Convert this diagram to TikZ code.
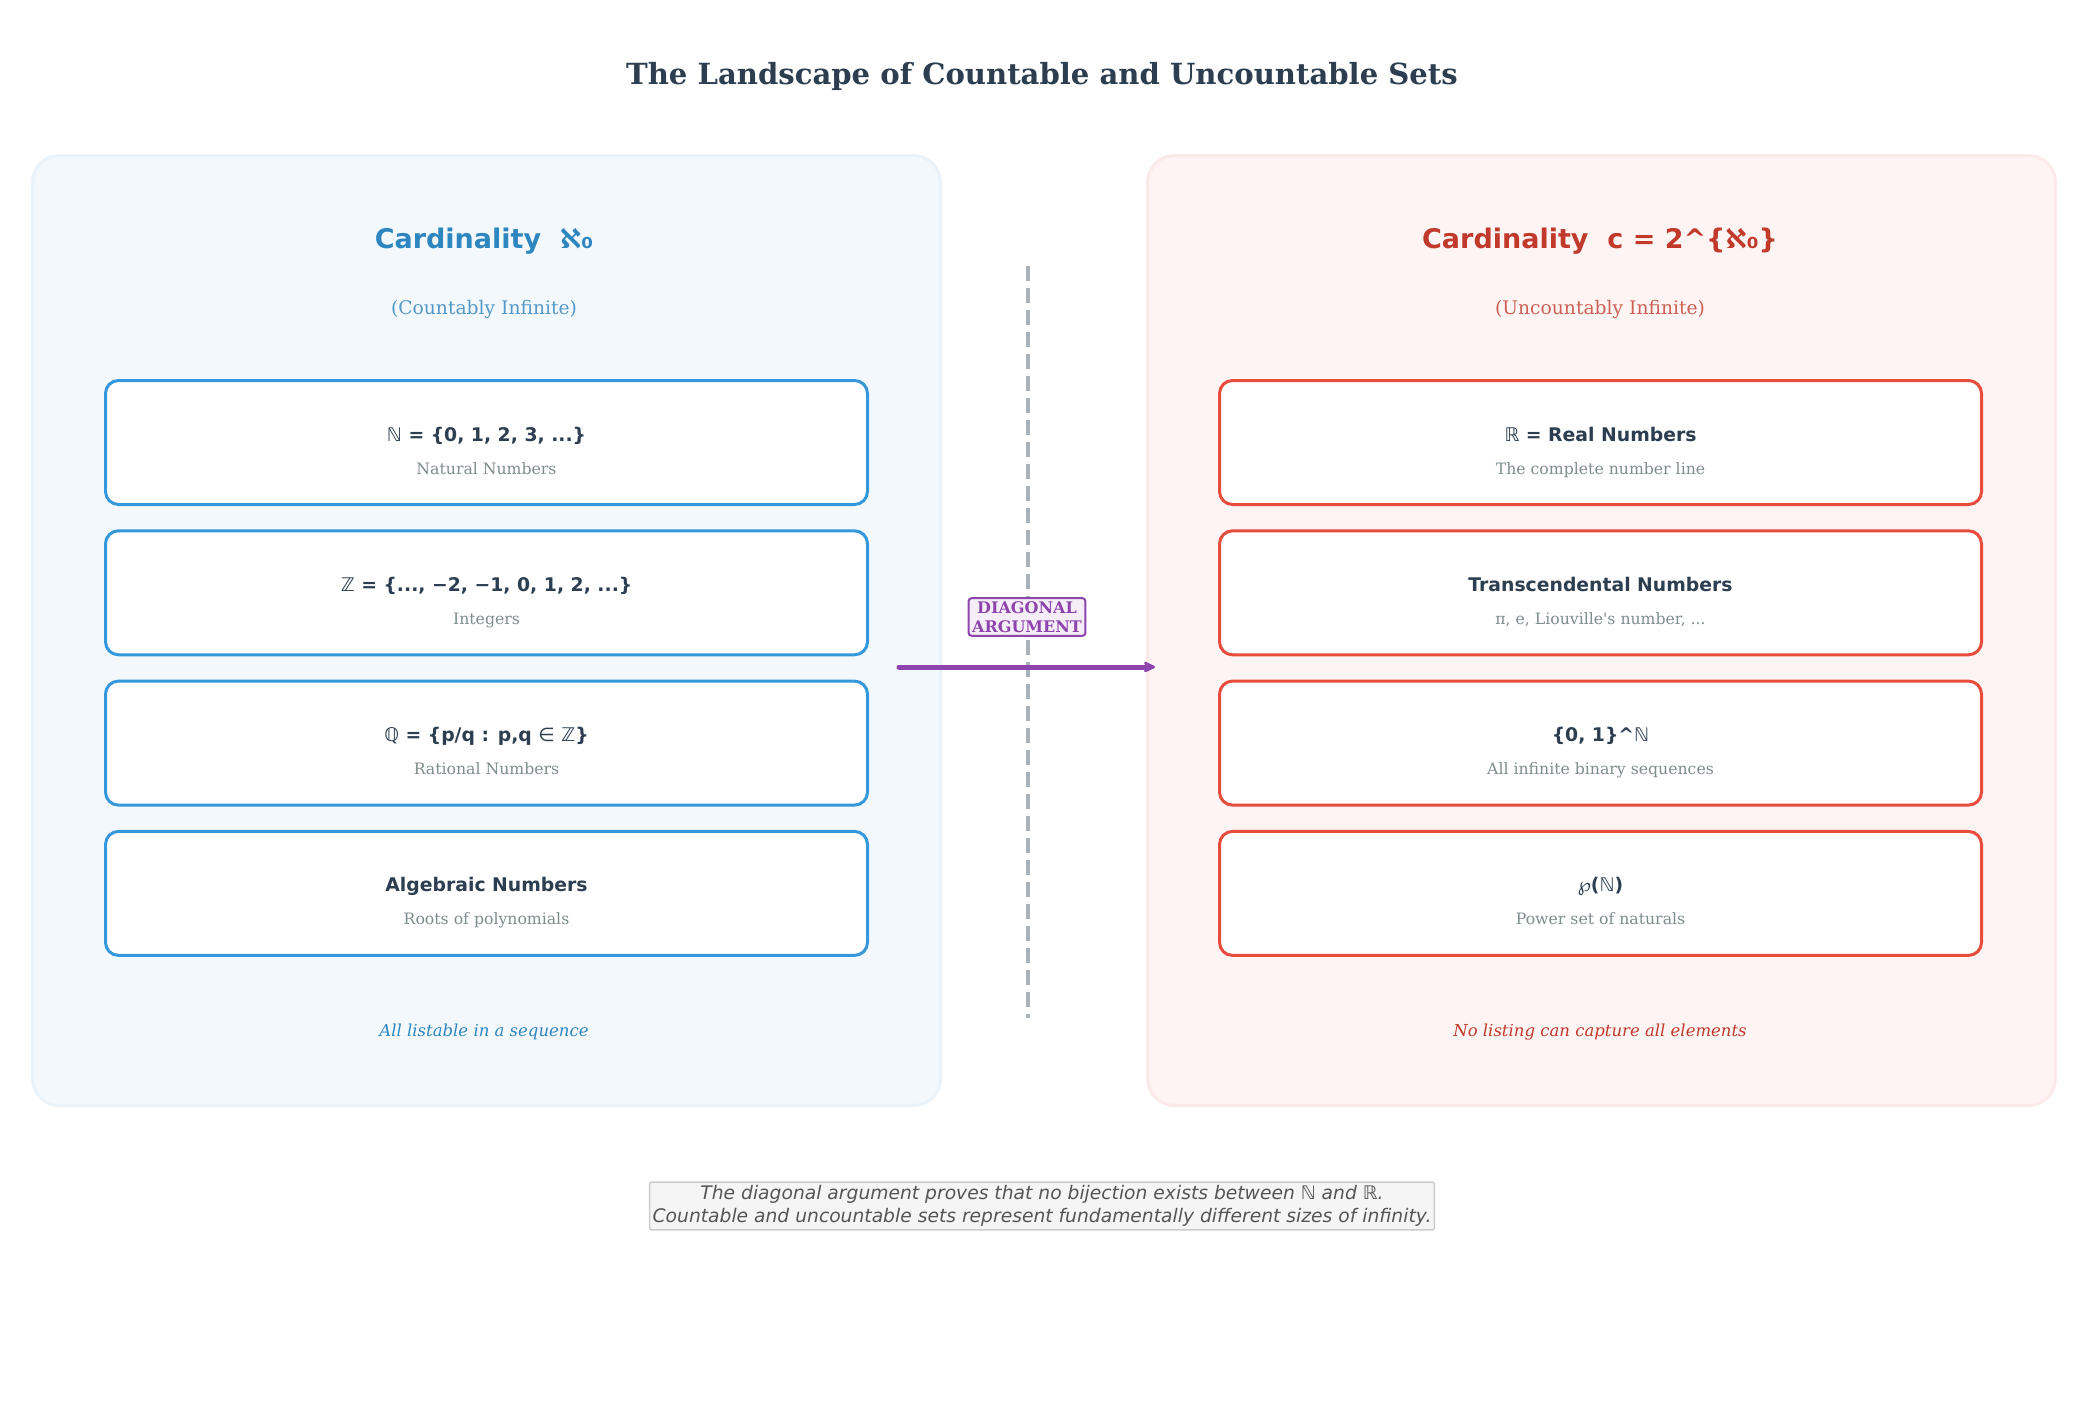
\documentclass[tikz,border=0pt]{standalone}
\usepackage{fontspec}
\setmainfont{DejaVu Serif}
\setsansfont{DejaVu Sans}
\newfontfamily\djs{DejaVu Sans}
\newfontfamily\rawserif{DejaVu Serif}
\usetikzlibrary{arrows.meta,calc}
\definecolor{ink}{HTML}{2C3E50}
\definecolor{subgray}{HTML}{7F8C8D}
\definecolor{lpfill}{HTML}{F3F8FC}
\definecolor{lpdraw}{HTML}{EAF2FA}
\definecolor{rpfill}{HTML}{FEF4F4}
\definecolor{rpdraw}{HTML}{FCEAEA}
\definecolor{bluet}{HTML}{2E86C1}
\definecolor{blues}{HTML}{5499C7}
\definecolor{redt}{HTML}{C0392B}
\definecolor{reds}{HTML}{CD6155}
\definecolor{blueb}{HTML}{3498DB}
\definecolor{redb}{HTML}{E74C3C}
\definecolor{dashc}{HTML}{AAB2B9}
\definecolor{purp}{HTML}{8E44AD}
\definecolor{purpfill}{HTML}{F5EEF8}
\definecolor{notefill}{HTML}{F5F5F5}
\definecolor{notedraw}{HTML}{CCCCCC}
\definecolor{notetext}{HTML}{555555}
\newcommand{\N}{{\djs\mdseries ℕ}}
\newcommand{\Z}{{\djs\mdseries ℤ}}
\newcommand{\Q}{{\djs\mdseries ℚ}}
\newcommand{\R}{{\djs\mdseries ℝ}}
\tikzset{
  panel/.style={rounded corners=27pt, line width=3pt, minimum width=908pt, minimum height=950pt, anchor=north west, inner sep=0pt},
  setbox/.style={rounded corners=13pt, line width=3pt, fill=white, minimum width=762pt, minimum height=124pt, anchor=north west, inner sep=0pt},
  mainlbl/.style={font=\sffamily\bfseries\fontsize{18.8}{22}\selectfont, text=ink, anchor=base},
  sublbl/.style={font=\rmfamily\fontsize{15.7}{18}\selectfont, text=subgray, anchor=base},
  ptitle/.style={font=\sffamily\bfseries\fontsize{27}{32}\selectfont, anchor=base},
  psub/.style={font=\rmfamily\fontsize{18.7}{22}\selectfont, anchor=base},
  pfoot/.style={font=\rmfamily\itshape\fontsize{16.5}{19}\selectfont, anchor=base},
}
\begin{document}
\begin{tikzpicture}[x=1pt,y=-1pt]
\useasboundingbox[fill=white] (0,0) rectangle (2085,1410);
\node[font=\rmfamily\bfseries\fontsize{29.1}{34}\selectfont, text=ink] (title) at (1042,76) {The Landscape of Countable and Uncountable Sets};
% panels
\node[panel, fill=lpfill, draw=lpdraw] (lp) at (31,154) {};
\node[panel, fill=rpfill, draw=rpdraw] (rp) at (1146,154) {};
\node[ptitle, text=bluet] (lt) at (484,248) {Cardinality\ \ ℵ₀};
\node[ptitle, text=redt] (rt) at (1600,248) {Cardinality\ \ c = 2\textasciicircum\{ℵ₀\}};
\node[psub, text=blues] (ls) at (484,314) {(Countably Infinite)};
\node[psub, text=reds] (rs) at (1600,314) {(Uncountably Infinite)};
% left boxes
\foreach \i/\m/\s in {0/{\N{} = \{0, 1, 2, 3, ...\}}/{Natural Numbers},
                      1/{\Z{} = \{..., −2, −1, 0, 1, 2, ...\}}/{Integers},
                      2/{\Q{} = \{p/q : p,q {\djs\mdseries ∈} \Z\}}/{Rational Numbers},
                      3/{Algebraic Numbers}/{Roots of polynomials}}{
  \node[setbox, draw=blueb] (L\i) at (104,379+150.3*\i) {};
  \node[mainlbl] (Lm\i) at ($(L\i.north)+(0,62)$) {\m};
  \node[sublbl] (Ls\i) at ($(L\i.north)+(0,95)$) {\s};
}
\foreach \i/\m/\s in {0/{\R{} = Real Numbers}/{The complete number line},
                      1/{Transcendental Numbers}/{π, e, Liouville{\rawserif '}s number, ...},
                      2/{\{0, 1\}\textasciicircum\N}/{All infinite binary sequences},
                      3/{{\djs\mdseries ℘}(\N)}/{Power set of naturals}}{
  \node[setbox, draw=redb] (R\i) at (1218,379+150.3*\i) {};
  \node[mainlbl] (Rm\i) at ($(R\i.north)+(0,62)$) {\m};
  \node[sublbl] (Rs\i) at ($(R\i.north)+(0,95)$) {\s};
}
\node[pfoot, text=bluet] (lf) at (484,1036) {All listable in a sequence};
\node[pfoot, text=redt] (rf) at (1600,1036) {No listing can capture all elements};
% divider
\coordinate (dtop) at (1028,266);
\coordinate (dbot) at (1028,1018);
\draw[dashc, line width=3.5pt, dash pattern=on 15pt off 7pt] (dtop) -- (dbot);
% arrow
\coordinate (a1) at (899,667);
\coordinate (a2) at (1155,667);
\draw[purp, line width=5pt, line cap=round, -{Stealth[length=15pt,width=14pt,round]}] (a1) -- (a2);
\node[draw=purp, fill=purpfill, line width=2pt, rounded corners=3pt, inner xsep=3.5pt, inner ysep=3.5pt,
      font=\rmfamily\bfseries\fontsize{16}{18.5}\selectfont, text=purp, align=center] (diag) at (1027,617) {DIAGONAL\\ARGUMENT};
% note
\node[draw=notedraw, fill=notefill, line width=1.5pt, rounded corners=2pt, inner xsep=3pt, inner ysep=3pt,
      font=\sffamily\itshape\fontsize{18.7}{23.5}\selectfont, text=notetext, align=center] (note) at (1042,1206)
      {The diagonal argument proves that no bijection exists between \N{} and \R.\\Countable and uncountable sets represent fundamentally different sizes of infinity.};
\end{tikzpicture}
\end{document}
